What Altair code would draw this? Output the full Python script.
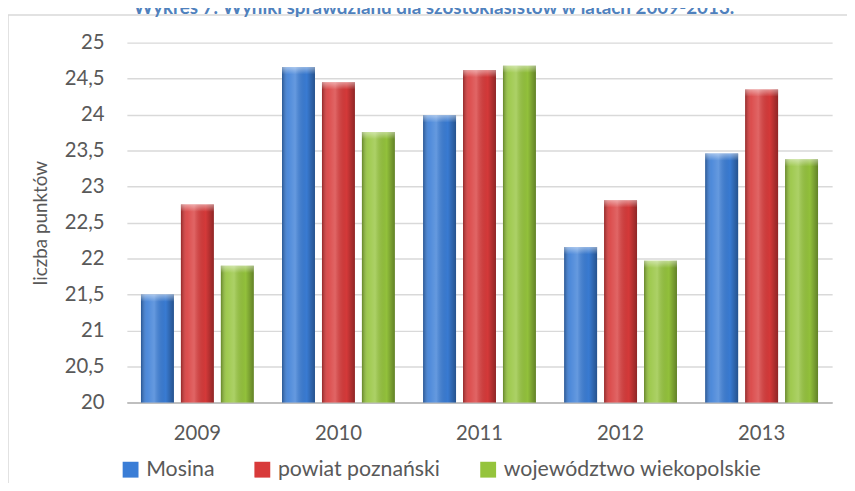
import altair as alt
import pandas as pd

years = ["2009", "2010", "2011", "2012", "2013"]
series = ["Mosina", "powiat poznański", "województwo wiekopolskie"]
mosina = [21.5, 24.66, 23.99, 22.16, 23.46]
powiat = [22.75, 24.45, 24.62, 22.81, 24.35]
wojewodztwo = [21.9, 23.76, 24.68, 21.97, 23.38]
colors = ["#3a7dd6", "#d83a3a", "#95c43c"]
y_ticks = [20, 20.5, 21, 21.5, 22, 22.5, 23, 23.5, 24, 24.5, 25]
y_title = "liczba punktów"
title_text = "Wykres 7. Wyniki sprawdzianu dla szóstoklasistów w latach 2009-2013."

rows = []
for s, vals in zip(series, [mosina, powiat, wojewodztwo]):
    for yr, v in zip(years, vals):
        rows.append({"rok": yr, "seria": s, "wartosc": v})
df = pd.DataFrame(rows)

FONT = "Lato"
GREY = "#595959"

x_enc = alt.X(
    "rok:N", sort=years,
    scale=alt.Scale(paddingInner=0.2, paddingOuter=0.1),
    axis=alt.Axis(title=None, labelAngle=0, ticks=False, domain=True,
                  domainColor="#bfbfbf", domainWidth=2, labelFontSize=20.5,
                  labelColor=GREY, labelPadding=21, labelFont=FONT),
)
xo_enc = alt.XOffset("seria:N", sort=series,
                     scale=alt.Scale(domain=series, paddingInner=0.175, paddingOuter=0))
y_enc = alt.Y(
    "wartosc:Q",
    scale=alt.Scale(domain=[20, 25], nice=False, zero=False),
    axis=alt.Axis(values=y_ticks, format="~g",
                  labelExpr="replace(datum.label, '.', ',')",
                  title=y_title, titleFont=FONT, titleFontSize=19,
                  titleFontWeight="normal", titleColor=GREY, titlePadding=14,
                  labelFont=FONT, labelFontSize=20.5, labelColor=GREY,
                  labelPadding=23, ticks=False, domain=False,
                  gridColor="#d9d9d9", gridWidth=1.5),
)

base = alt.Chart(df).encode(x=x_enc, xOffset=xo_enc, y=y_enc, y2=alt.Y2Datum(20))

solid = base.mark_bar().encode(
    color=alt.Color(
        "seria:N", sort=series,
        scale=alt.Scale(domain=series, range=colors),
        legend=alt.Legend(title=None, orient="none", legendX=-7, legendY=420,
                          direction="horizontal", symbolType="square",
                          symbolSize=256, symbolStrokeWidth=0,
                          labelFont=FONT, labelFontSize=21.5, labelColor=GREY,
                          labelOffset=5, columnPadding=37, labelLimit=500),
    )
)

shade = base.mark_bar(
    color=alt.LinearGradient(
        gradient="linear", x1=0, x2=1, y1=0, y2=0,
        stops=[
            alt.GradientStop(color="rgba(0,0,0,0.32)", offset=0),
            alt.GradientStop(color="rgba(255,255,255,0.10)", offset=0.18),
            alt.GradientStop(color="rgba(255,255,255,0.22)", offset=0.4),
            alt.GradientStop(color="rgba(0,0,0,0.02)", offset=0.75),
            alt.GradientStop(color="rgba(0,0,0,0.34)", offset=1),
        ],
    )
)

top = base.transform_calculate(top2="datum.wartosc - 0.1").mark_bar(
    color=alt.LinearGradient(
        gradient="linear", x1=0, x2=0, y1=0, y2=1,
        stops=[
            alt.GradientStop(color="rgba(255,255,255,0.45)", offset=0),
            alt.GradientStop(color="rgba(255,255,255,0.0)", offset=1),
        ],
    )
).encode(y2="top2:Q")

frame = alt.Chart(pd.DataFrame({"k": [0]})).mark_rect(
    fillOpacity=0, stroke="#d9d9d9", strokeWidth=1.5
).encode(x=alt.value(-120), x2=alt.value(740), y=alt.value(-28), y2=alt.value(470))

title = alt.Chart(pd.DataFrame({"k": [0]})).mark_text(
    text=title_text, font=FONT, fontSize=19, fontWeight="bold",
    color="#4f81bd", align="center", baseline="alphabetic"
).encode(x=alt.value(310), y=alt.value(-29))

chart = alt.layer(frame, solid, shade, top, title).properties(
    width=712, height=363.3,
    autosize=alt.AutoSizeParams(type="none"),
    padding={"left": 120, "top": 32.7, "right": 15, "bottom": 79},
).configure_view(strokeWidth=0)

chart.save("out.html", embed_options={"renderer": "svg", "actions": False})
